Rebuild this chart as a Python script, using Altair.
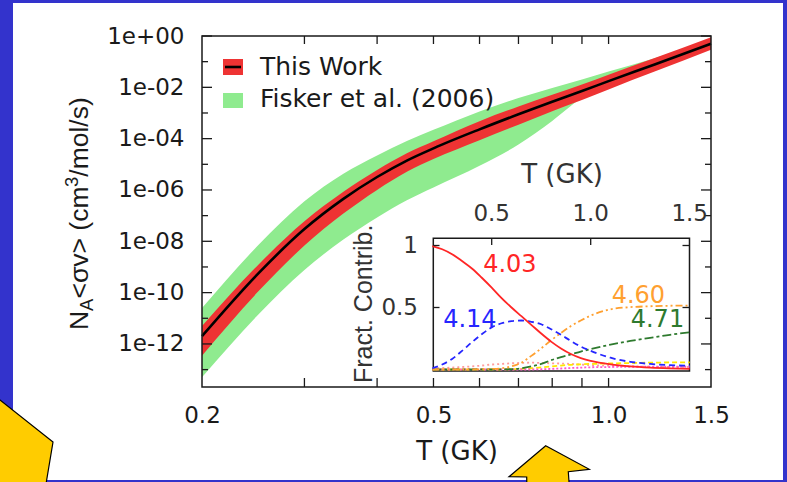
import altair as alt
import pandas as pd

# ---------------- main panel: reaction rate N_A<sigma v> versus T ----------------
T = [0.2, 0.25, 0.3, 0.35, 0.4, 0.45, 0.5, 0.6, 0.7, 0.8, 0.9, 1.0, 1.2, 1.5]
this_work = [2.0e-12, 5.6e-10, 3.0e-8, 4.5e-7, 3.2e-6, 1.4e-5, 4.2e-5, 2.3e-4, 8.9e-4,
             2.75e-3, 7.2e-3, 1.74e-2, 7.8e-2, 0.50]
this_work_hi = [5.0e-12, 1.23e-9, 6.0e-8, 8.5e-7, 6.0e-6, 2.7e-5, 7.9e-5, 4.8e-4, 1.78e-3,
                5.1e-3, 1.29e-2, 3.1e-2, 0.138, 0.89]
this_work_lo = [3.5e-13, 1.12e-10, 6.8e-9, 1.2e-7, 1.0e-6, 5.1e-6, 1.6e-5, 8.7e-5, 3.5e-4,
                1.17e-3, 3.2e-3, 8.3e-3, 4.1e-2, 0.29]
fisker_hi = [2.5e-11, 7.1e-9, 3.6e-7, 4.3e-6, 2.2e-5, 8.1e-5, 2.2e-4, 1.15e-3, 3.8e-3,
             9.5e-3, 2.0e-2, 4.1e-2, 0.135, 0.71]
fisker_lo = [5.0e-14, 1.4e-11, 7.6e-10, 1.17e-8, 8.5e-8, 4.0e-7, 1.26e-6, 8.7e-6, 5.9e-5,
             4.9e-4, 3.8e-3, 1.12e-2, 5.6e-2, 0.355]

x_labels = [0.2, 0.5, 1.0, 1.5]
x_minor = [0.3, 0.4, 0.5, 0.6, 0.7, 0.8, 0.9, 1.0]
y_major = [1.0, 1e-2, 1e-4, 1e-6, 1e-8, 1e-10, 1e-12]
y_minor = [1e-1, 1e-3, 1e-5, 1e-7, 1e-9, 1e-11, 1e-13]
legend_labels = ["This Work", "Fisker et al. (2006)"]

# ---------------- inset: fractional contribution of each 19Ne level ----------------
inset_T = [0.2, 0.25, 0.3, 0.35, 0.4, 0.45, 0.5, 0.55, 0.6, 0.65, 0.7, 0.75, 0.8, 0.85,
           0.9, 0.95, 1.0, 1.1, 1.2, 1.3, 1.4, 1.5]
frac_403 = [0.995, 0.97, 0.93, 0.875, 0.815, 0.74, 0.66, 0.575, 0.50, 0.43, 0.36, 0.29,
            0.225, 0.17, 0.125, 0.092, 0.07, 0.042, 0.025, 0.015, 0.009, 0.005]
frac_414 = [0.01, 0.04, 0.085, 0.15, 0.22, 0.285, 0.34, 0.373, 0.39, 0.395, 0.385, 0.365,
            0.325, 0.28, 0.23, 0.185, 0.15, 0.095, 0.062, 0.045, 0.035, 0.03]
frac_460 = [0, 0, 0, 0, 0, 0.002, 0.004, 0.01, 0.025, 0.055, 0.11, 0.17, 0.235, 0.295,
            0.35, 0.395, 0.435, 0.485, 0.503, 0.51, 0.514, 0.516]
frac_471 = [0, 0, 0, 0, 0, 0, 0, 0.001, 0.003, 0.01, 0.025, 0.045, 0.075, 0.1, 0.122,
            0.145, 0.165, 0.2, 0.23, 0.255, 0.28, 0.30]
frac_pink = [0.01, 0.012, 0.015, 0.02, 0.025, 0.032, 0.04, 0.045, 0.05, 0.053, 0.055,
             0.053, 0.05, 0.048, 0.045, 0.04, 0.035, 0.03, 0.025, 0.022, 0.02, 0.02]
frac_yellow = [0, 0, 0, 0, 0, 0, 0, 0, 0.002, 0.005, 0.01, 0.017, 0.025, 0.032, 0.038,
               0.042, 0.045, 0.049, 0.052, 0.055, 0.057, 0.058]
frac_magenta = [0, 0, 0, 0, 0, 0, 0, 0, 0, 0, 0, 0.002, 0.005, 0.008, 0.012, 0.015,
                0.018, 0.02, 0.022, 0.022, 0.022, 0.022]

level_names = ["4.03", "4.14", "4.60", "4.71"]
level_T = [0.592, 0.39, 1.241, 1.337]
level_frac = [0.789, 0.345, 0.536, 0.343]
level_colors = ["#FF2626", "#2626FF", "#FFA030", "#2E7A2E"]

inset_x_labels = [0.5, 1.0, 1.5]
inset_y_labels = [0.5, 1.0]

TXT = "#1a1a1a"
RED = "#EE3333"
GREEN = "#8FEB8F"
W, H = 509, 351

main_df = pd.DataFrame({"T": T, "tw": this_work, "tw_hi": this_work_hi, "tw_lo": this_work_lo,
                        "fk_hi": fisker_hi, "fk_lo": fisker_lo})
inset_df = pd.DataFrame({"T": inset_T, "f403": frac_403, "f414": frac_414, "f460": frac_460,
                         "f471": frac_471, "fpink": frac_pink, "fyel": frac_yellow,
                         "fmag": frac_magenta})
one = pd.DataFrame({"k": [0]})

xs = alt.Scale(type="log", domain=[0.2, 1.5], nice=False)
ys = alt.Scale(type="log", domain=[2.1e-14, 1.0], nice=False)
ixs = alt.Scale(domain=[0.2, 1.5], range=[230.3, 487.7], nice=False)
iys = alt.Scale(domain=[0.0, 1.0], range=[333.5, 209.5], nice=False, zero=False)

x_axis = alt.Axis(values=x_labels, format=".1f", ticks=False, tickSize=0, domain=False,
                  grid=False, labelPadding=17, labelFontSize=23, labelFont="DejaVu Sans",
                  labelColor=TXT, labelFlush=False, labelOverlap=False,
                  title="T (GK)", titleFont="DejaVu Sans", titleFontSize=26,
                  titleFontWeight="normal", titleColor=TXT, titleX=254.5, titleY=72,
                  titleBaseline="alphabetic", titleAlign="center", zindex=1)
y_axis = alt.Axis(values=y_major, ticks=False, tickSize=0, domain=False, grid=False,
                  labelExpr="datum.value >= 1 ? '1e+00' : '1e-' + format(round(-log(datum.value) / LN10), '02d')",
                  labelPadding=18, labelFontSize=23, labelFont="DejaVu Sans", labelColor=TXT,
                  labelFlush=False, labelOverlap=False, title="", zindex=1)

layers = []

# white slide panel on the blue border
layers.append(alt.Chart(one).mark_rect(color="white").encode(
    x=alt.value(-189), x2=alt.value(581), y=alt.value(-33), y2=alt.value(444)))

# uncertainty bands and recommended rate
layers.append(alt.Chart(main_df).mark_area(color=GREEN, opacity=1, interpolate="monotone").encode(
    x=alt.X("T:Q", scale=xs, axis=x_axis),
    y=alt.Y("fk_hi:Q", scale=ys, axis=y_axis), y2="fk_lo:Q"))
layers.append(alt.Chart(main_df).mark_area(color=RED, opacity=1, interpolate="monotone").encode(
    x=alt.X("T:Q", scale=xs, axis=None),
    y=alt.Y("tw_hi:Q", scale=ys, axis=None), y2="tw_lo:Q"))
layers.append(alt.Chart(main_df).mark_line(color="black", strokeWidth=2.6, interpolate="monotone").encode(
    x=alt.X("T:Q", scale=xs, axis=None),
    y=alt.Y("tw:Q", scale=ys, axis=None)))

# inward ticks on all four sides
def y_ticks(vals, x0, x1):
    return alt.Chart(pd.DataFrame({"v": vals})).mark_rule(color=TXT, strokeWidth=1.3).encode(
        y=alt.Y("v:Q", scale=ys, axis=None), x=alt.value(x0), x2=alt.value(x1))

def x_ticks(vals, y0, y1):
    return alt.Chart(pd.DataFrame({"v": vals})).mark_rule(color=TXT, strokeWidth=1.3).encode(
        x=alt.X("v:Q", scale=xs, axis=None), y=alt.value(y0), y2=alt.value(y1))

layers += [y_ticks(y_major, 0, 10), y_ticks(y_minor, 0, 6),
           y_ticks(y_major, W - 10, W), y_ticks(y_minor, W - 6, W),
           x_ticks(x_minor, H, H - 9), x_ticks(x_minor, 0, 8)]

# plot frame
layers.append(alt.Chart(one).mark_rect(filled=False, color=TXT, strokeWidth=1.5).encode(
    x=alt.value(0), x2=alt.value(W), y=alt.value(0), y2=alt.value(H)))

# legend
layers.append(alt.Chart(one).mark_rect(color=RED).encode(
    x=alt.value(21), x2=alt.value(41), y=alt.value(23), y2=alt.value(39)))
layers.append(alt.Chart(one).mark_rule(color="black", strokeWidth=2.6).encode(
    x=alt.value(23), x2=alt.value(39), y=alt.value(31)))
layers.append(alt.Chart(one).mark_rect(color=GREEN).encode(
    x=alt.value(21), x2=alt.value(41), y=alt.value(57), y2=alt.value(72)))
for lab, yy in zip(legend_labels, [39, 71]):
    layers.append(alt.Chart(one).mark_text(text=lab, font="DejaVu Sans", fontSize=25, color=TXT,
                                           align="left", baseline="alphabetic").encode(
        x=alt.value(58), y=alt.value(yy)))

# rotated y title with sub/superscripts
for txt, fs, xx, yy in [("N", 26.5, -114, 294), ("A", 18.5, -109, 274.9),
                        ("<σv> (cm", 26.5, -114, 262.6), ("3", 18.5, -124, 151),
                        ("/mol/s)", 26.5, -114, 140.7)]:
    layers.append(alt.Chart(one).mark_text(text=txt, font="Liberation Sans", fontSize=fs,
                                           color=TXT, angle=270, align="left",
                                           baseline="alphabetic").encode(
        x=alt.value(xx), y=alt.value(yy)))

# ---------------- inset ----------------
layers.append(alt.Chart(one).mark_rect(fill="white", stroke=TXT, strokeWidth=1.5).encode(
    x=alt.value(231.3), x2=alt.value(487.5), y=alt.value(202.3), y2=alt.value(335)))

inset_styles = [("fpink", "#FF9A9A", [2, 3]), ("fyel", "#FFE800", [5, 3]),
                ("fmag", "#FF55CC", [2, 2]), ("f471", "#2E7A2E", [9, 3, 3, 3]),
                ("f460", "#FFA030", [7, 3, 2, 3, 2, 3]), ("f414", "#2626FF", [6, 4]),
                ("f403", "#FF2626", None)]
for col, c, dash in inset_styles:
    mk = dict(color=c, strokeWidth=1.8, interpolate="monotone")
    if dash:
        mk["strokeDash"] = dash
    layers.append(alt.Chart(inset_df).mark_line(**mk).encode(
        x=alt.X("T:Q", scale=ixs, axis=None),
        y=alt.Y(f"{col}:Q", scale=iys, axis=None)))

lvl_df = pd.DataFrame({"T": level_T, "f": level_frac, "lab": level_names, "c": level_colors})
layers.append(alt.Chart(lvl_df).mark_text(font="DejaVu Sans", fontSize=24, align="center",
                                          baseline="alphabetic").encode(
    x=alt.X("T:Q", scale=ixs, axis=None), y=alt.Y("f:Q", scale=iys, axis=None),
    text="lab:N", color=alt.Color("c:N", scale=None)))

# inset ticks
layers.append(alt.Chart(pd.DataFrame({"v": [0.5, 1.0]})).mark_rule(color=TXT, strokeWidth=1.3).encode(
    x=alt.X("v:Q", scale=ixs, axis=None), y=alt.value(202.3), y2=alt.value(209)))
for x0, x1 in [(231.3, 237.5), (480.5, 487.5)]:
    layers.append(alt.Chart(pd.DataFrame({"v": inset_y_labels})).mark_rule(color=TXT, strokeWidth=1.3).encode(
        y=alt.Y("v:Q", scale=iys, axis=None), x=alt.value(x0), x2=alt.value(x1)))

# inset tick labels
layers.append(alt.Chart(pd.DataFrame({"v": inset_x_labels,
                                      "lab": [f"{v:.1f}" for v in inset_x_labels]})).mark_text(
    font="DejaVu Sans", fontSize=23, color="#333333", align="center", baseline="alphabetic").encode(
    x=alt.X("v:Q", scale=ixs, axis=None), y=alt.value(185), text="lab:N"))
layers.append(alt.Chart(pd.DataFrame({"v": inset_y_labels, "lab": ["0.5", "1"]})).mark_text(
    font="DejaVu Sans", fontSize=23, color="#333333", align="right", baseline="middle").encode(
    y=alt.Y("v:Q", scale=iys, axis=None), x=alt.value(216), text="lab:N"))

# inset titles
layers.append(alt.Chart(one).mark_text(text="T (GK)", font="DejaVu Sans", fontSize=26,
                                       color="#333333", align="center", baseline="alphabetic").encode(
    x=alt.value(360), y=alt.value(147)))
layers.append(alt.Chart(one).mark_text(text="Fract. Contrib.", font="Liberation Sans", fontSize=25,
                                       color="#333333", angle=270, align="left",
                                       baseline="alphabetic").encode(
    x=alt.value(170), y=alt.value(347)))

# yellow slide arrows
arrow_left = "M -212 356 L -149 406 L -158 460 L -212 460 Z"
arrow_mid = ("M 343.7 409.7 L 387.3 433.3 L 366.3 435.7 L 368 460 "
             "L 325 460 L 324.7 441 L 307 440.7 Z")
for shp in [arrow_left, arrow_mid]:
    layers.append(alt.Chart(one).mark_point(shape=shp, size=4, filled=True, color="#FFCC00",
                                            stroke="black", strokeWidth=1.2, opacity=1,
                                            fillOpacity=1, strokeOpacity=1).encode(
        x=alt.value(0), y=alt.value(0)))

chart = alt.layer(*layers).resolve_scale(x="independent", y="independent").properties(
    width=W, height=H,
    padding={"left": 202, "top": 36, "right": 76, "bottom": 95},
    autosize=alt.AutoSizeParams(type="none"),
    background="#3333CC",
).configure_view(strokeWidth=0)

chart.save("out.html", embed_options={"renderer": "svg", "actions": False})
